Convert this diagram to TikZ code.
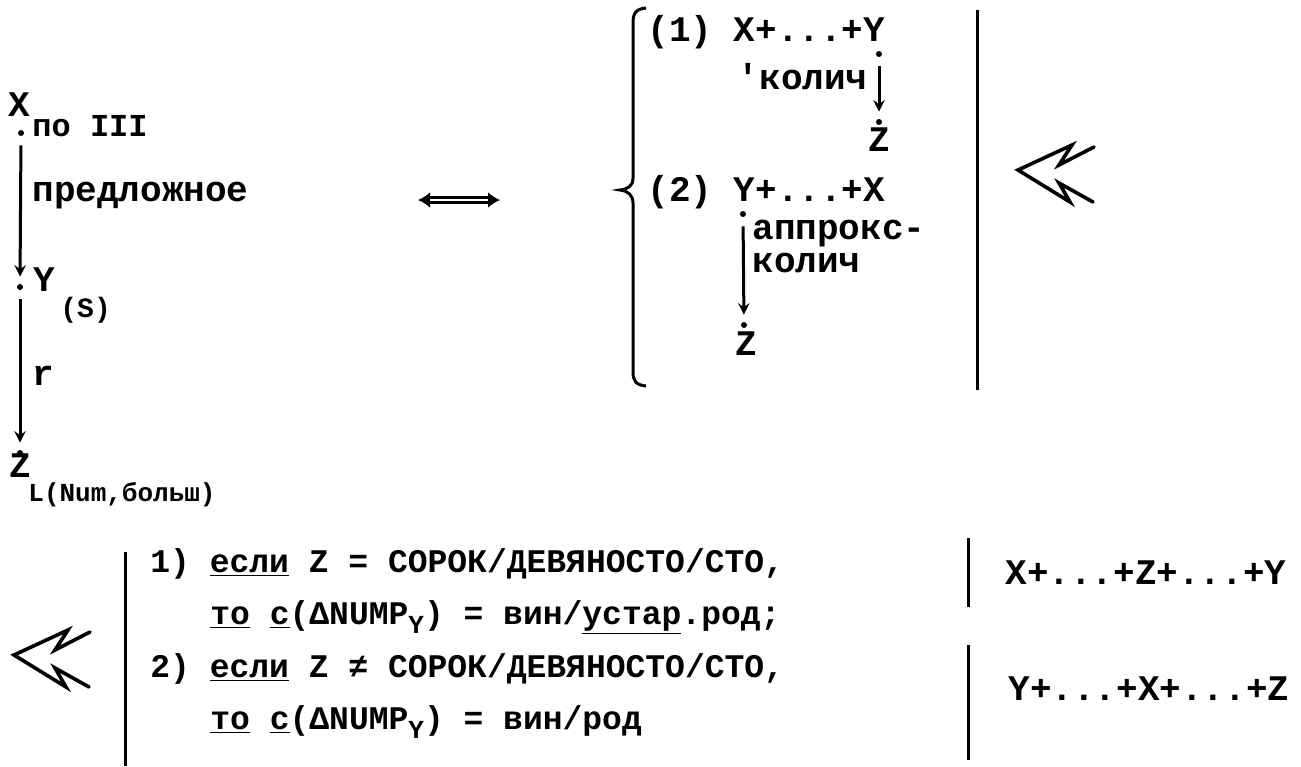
\documentclass[tikz,border=0pt]{standalone}
\usepackage{fontspec}
\setmainfont{Liberation Mono}
\usetikzlibrary{arrows.meta}

\newcommand{\lowsub}[1]{\raisebox{-0.55ex}{\fontsize{13}{13}\selectfont #1}}

\tikzset{
  txt/.style={anchor=base west, inner sep=0pt, font=\fontsize{18}{20}\selectfont\bfseries},
  cond/.style={anchor=base west, inner sep=0pt, font=\fontsize{16.5}{18}\selectfont\bfseries},
  sub/.style={anchor=base west, inner sep=0pt, font=\fontsize{#1}{#1}\selectfont\bfseries},
  sub/.default=13,
  pt/.style={circle, fill, inner sep=0pt, minimum size=3pt},
  lnk/.style={line width=1.5pt, ->, shorten <=4.5pt, shorten >=3.5pt},
  bar/.style={line width=1.5pt},
  zag/.style={line width=1.8pt, line join=miter, line cap=round},
}

\begin{document}
\begin{tikzpicture}[x=0.5pt,y=-0.5pt,>=stealth]
  \useasboundingbox (0,0) rectangle (1301,766);

  \node[txt] (xl) at (8,116) {X};
  \node[sub=16] (xlsub) at (32,136) {по III};
  \node[pt] (xd) at (21,133) {};
  \node[pt] (yd) at (20,287) {};
  \node[pt] (zd) at (20,453) {};
  \draw[lnk] (xd) -- (yd);
  \draw[lnk] (yd) -- (zd);
  \node[txt] (lprep) at (32,201) {предложное};
  \node[txt] (yl) at (33,291) {Y};
  \node[sub=14] (ylsub) at (60,317) {(S)};
  \node[txt] (lr) at (32,385) {r};
  \node[txt] (zl) at (9,477) {Z};
  \node[sub] (zlsub) at (28,501) {L(Num,больш)};

  \coordinate (eqw) at (418,200);
  \coordinate (eqe) at (500,200);
  \draw[line width=1.4pt, double distance=1pt, {Latex[length=6pt,width=8pt]}-{Latex[length=6pt,width=8pt]}] (eqw) -- (eqe);

  \draw[bar] (646,8) .. controls (636,9) and (633,13) .. (633,23) -- (633,178)
    .. controls (633,186) and (628,189) .. (620,190)
    .. controls (628,191) and (633,195) .. (633,203) -- (633,372)
    .. controls (633,381) and (636,385) .. (646,386);
  \draw[bar] (977,10) -- (977,390);

  \node[txt] (v1) at (647,41) {(1) X+...+Y};
  \node[pt] (y1d) at (879,54) {};
  \node[pt] (z1d) at (879,122) {};
  \draw[lnk] (y1d) -- (z1d);
  \node[txt, anchor=base east] (lkol) at (868,89) {\textquotesingle колич};
  \node[txt] (z1) at (868,151) {Z};

  \node[txt] (v2) at (647,201) {(2) Y+...+X};
  \node[pt] (y2d) at (743,214) {};
  \node[pt] (z2d) at (744,325) {};
  \draw[lnk] (y2d) -- (z2d);
  \node[txt] (lappr) at (752,239) {аппрокс-};
  \node[txt] (lkol2) at (752,272) {колич};
  \node[txt] (z2) at (735,355) {Z};

  \coordinate (imp1) at (1018,170);
  \coordinate (imp2) at (14,655);
  \foreach \c in {imp1,imp2}
    \draw[zag, shift={(\c)}] (76,-23) -- (41,-5) -- (54,-25) -- (0,0) -- (52,32) -- (41,13) -- (75,32);

  \draw[bar] (125,552) -- (125,766);
  \node[cond] (c1) at (150,572) {1) \underline{если} Z = СОРОК/ДЕВЯНОСТО/СТО,};
  \node[cond] (c2) at (210,624) {\underline{то} \underline{с}(ΔNUMP\lowsub{Y}) = вин/\underline{устар}.род;};
  \node[cond] (c3) at (150,677) {2) \underline{если} Z ≠ СОРОК/ДЕВЯНОСТО/СТО,};
  \node[cond] (c4) at (210,729) {\underline{то} \underline{с}(ΔNUMP\lowsub{Y}) = вин/род};

  \draw[bar] (968,538) -- (968,607);
  \node[txt] (r1) at (1005,584) {X+...+Z+...+Y};
  \draw[bar] (968,645) -- (968,760);
  \node[txt] (r2) at (1008,700) {Y+...+X+...+Z};
\end{tikzpicture}
\end{document}
